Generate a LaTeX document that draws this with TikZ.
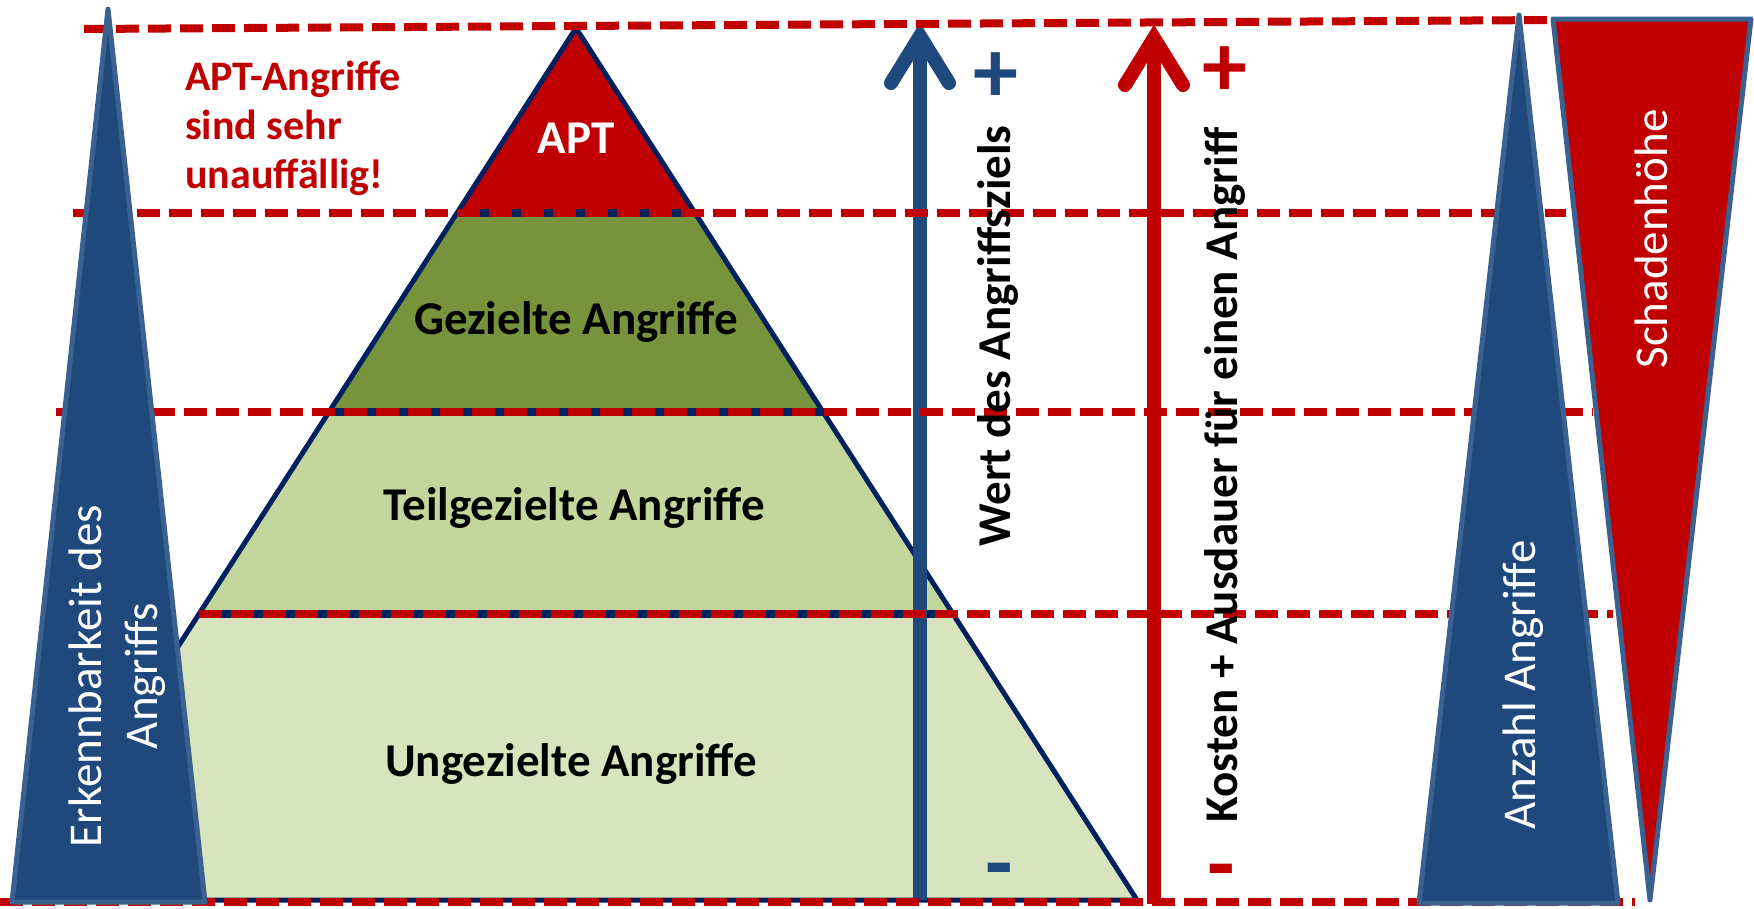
\documentclass[tikz,border=0pt]{standalone}
\usepackage{fontspec}
\setmainfont{Carlito}
\usetikzlibrary{calc}
\definecolor{alarmred}{HTML}{C00000}
\definecolor{navy}{HTML}{002060}
\definecolor{deepblue}{HTML}{1F497D}
\definecolor{edgeblue}{HTML}{3B6190}
\definecolor{greenA}{HTML}{77933C}
\definecolor{greenB}{HTML}{C3D69B}
\definecolor{greenC}{HTML}{D7E4BD}
\tikzset{
  levelline/.style={draw=alarmred, line width=8pt, dash pattern=on 23pt off 9pt},
  navyline/.style={draw=navy, line width=8pt},
  wedge/.style={draw=edgeblue, line width=5pt, line join=round},
  shaft/.style={line width=14pt},
  barb/.style={line width=14pt, line cap=round, line join=miter},
  layerlabel/.style={font=\fontsize{47}{56}\selectfont\bfseries, inner sep=0pt, anchor=base},
  sidelabel/.style={font=\fontsize{47}{56}\selectfont, text=white, inner sep=0pt, rotate=90},
  axislabel/.style={font=\fontsize{47}{56}\selectfont\bfseries, inner sep=0pt, anchor=base, rotate=90},
  signlabel/.style={font=\fontsize{90}{90}\selectfont\bfseries, inner sep=0pt, anchor=base}
}
\begin{document}
\begin{tikzpicture}[x=1pt,y=-1pt]
\useasboundingbox (0,0) rectangle (1754,908);

% pyramid corners
\coordinate (apex) at (576,28);
\coordinate (l1) at (457,213);  \coordinate (r1) at (695,213);
\coordinate (l2) at (329,412);  \coordinate (r2) at (823,412);
\coordinate (l3) at (199,614);  \coordinate (r3) at (953,614);
\coordinate (l4) at (15,900);   \coordinate (r4) at (1137,900);

% pyramid layers
\fill[alarmred] (apex) -- (r1) -- (l1) -- cycle;
\fill[greenA] (l1) -- (r1) -- (r2) -- (l2) -- cycle;
\fill[greenB] (l2) -- (r2) -- (r3) -- (l3) -- cycle;
\fill[greenC] (l3) -- (r3) -- (r4) -- (l4) -- cycle;
\draw[navy, line width=5pt, line join=round] (apex) -- (r4) -- (l4) -- cycle;
\draw[navyline] (l1) -- (r1);
\draw[navyline] (l2) -- (r2);
\draw[navyline] (l3) -- (r3);

% vertical arrows
\coordinate (wbot) at (920,900);  \coordinate (wtop) at (920,36);
\coordinate (kbot) at (1154,904); \coordinate (ktop) at (1154,38);
\draw[shaft, deepblue] (wbot) -- (wtop);
\draw[barb, deepblue] ($(wtop)+(-29,47)$) -- (wtop) -- ($(wtop)+(29,47)$);
\draw[shaft, alarmred] (kbot) -- (ktop);
\draw[barb, alarmred] ($(ktop)+(-29,47)$) -- (ktop) -- ($(ktop)+(29,47)$);

% dashed level lines
\coordinate (a0) at (84,29);  \coordinate (b0) at (1553,20);
\coordinate (a1) at (73,213); \coordinate (b1) at (1566,213);
\coordinate (a2) at (56,412); \coordinate (b2) at (1593,412);
\coordinate (a3) at (199,614);\coordinate (b3) at (1613,614);
\coordinate (a4) at (0,902);  \coordinate (b4) at (1635,902);
\draw[levelline] (a0) -- (b0);
\draw[levelline] (a1) -- (b1);
\draw[levelline] (a2) -- (b2);
\draw[levelline] (a3) -- (b3);
\draw[levelline] (a4) -- (b4);

% side wedges
\draw[wedge, fill=deepblue] (108,9) -- (205,902) -- (12,902) -- cycle;
\draw[wedge, fill=deepblue] (1519,15) -- (1618,903) -- (1419,903) -- cycle;
\draw[wedge, fill=alarmred] (1553,19) -- (1751,19) -- (1650,900) -- cycle;

% labels
\node[layerlabel, text=white] (apt) at (576,153) {APT};
\node[layerlabel] (gez) at (576,334) {Gezielte Angriffe};
\node[layerlabel] (teil) at (574,520) {Teilgezielte Angriffe};
\node[layerlabel] (unge) at (571,776) {Ungezielte Angriffe};

\node[font=\fontsize{42}{49}\selectfont\bfseries, text=alarmred, align=left,
      inner sep=0pt, anchor=north west] (note) at (185,61)
      {APT-Angriffe\\sind sehr\\unauffällig!};

\node[sidelabel, align=center] (erk) at (117,676) {Erkennbarkeit des\\Angriffs};
\node[sidelabel, anchor=base] (anz) at (1535,685) {Anzahl Angriffe};
\node[sidelabel, anchor=base] (sch) at (1667,239) {Schadenhöhe};

\node[axislabel] (wert) at (1010,336) {Wert des Angriffsziels};
\node[axislabel] (kost) at (1237,475) {Kosten + Ausdauer für einen Angriff};

\node[signlabel, text=deepblue] (wplus) at (996,102) {+};
\node[signlabel, text=alarmred] (kplus) at (1225,96) {+};
\node[signlabel, text=deepblue] (wminus) at (999,893) {-};
\node[signlabel, text=alarmred] (kminus) at (1221,894) {-};
\end{tikzpicture}
\end{document}
